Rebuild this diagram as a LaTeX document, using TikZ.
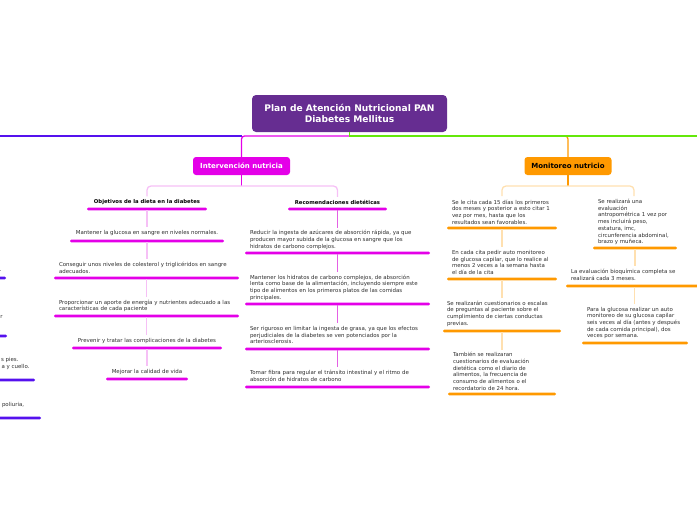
\documentclass[tikz,border=0pt]{standalone}
\usepackage{fontspec}
\setmainfont{DejaVu Sans}
\definecolor{titleC}{RGB}{102,45,145}
\definecolor{blueC}{RGB}{85,17,238}
\definecolor{magC}{RGB}{228,0,232}
\definecolor{paleM}{RGB}{246,192,246}
\definecolor{midM}{RGB}{228,96,228}
\definecolor{orangeC}{RGB}{255,153,0}
\definecolor{paleO}{RGB}{255,224,176}
\definecolor{greenC}{RGB}{100,232,10}
\definecolor{txtC}{RGB}{45,45,45}
\begin{document}
\begin{tikzpicture}[x=1pt,y=-1pt,
  every node/.style={inner sep=0pt, outer sep=0pt},
  small/.style={font=\fontsize{5.45}{6.7}\selectfont, text=txtC, align=left},
  smallb/.style={font=\bfseries\fontsize{5.3}{6.7}\selectfont, text=black},
  bar/.style={fill=#1, rounded corners=1.25pt, minimum height=2.6pt},
  mainbox/.style={fill=#1, rounded corners=3pt, font=\bfseries\fontsize{7}{8}\selectfont},
  spineline/.style={line width=1.3pt, draw=#1},
  conn/.style={line width=1.3pt, draw=#1, shorten >=3pt},
]
\useasboundingbox (0,0) rectangle (697,520);
\clip (0,0) rectangle (697,520);

% ---- title ----
\node[fill=titleC, rounded corners=4pt, minimum width=195pt, minimum height=37pt,
      text=white, align=center, font=\bfseries\fontsize{9.1}{11.5}\selectfont]
  (title) at (349.5,113.5) {Plan de Atención Nutricional PAN\\Diabetes Mellitus};
\coordinate (spine) at (349.5,136);
\coordinate (westEnd) at (-10,136);
\coordinate (eastEnd) at (710,136);

% ---- branch boxes ----
\node[mainbox=magC, text=white, minimum width=97pt, minimum height=18pt] (iv) at (241.5,166) {Intervención nutricia};
\node[mainbox=orangeC, text=black, minimum width=87pt, minimum height=18pt] (mn) at (568,166) {Monitoreo nutricio};

% spine lines
\draw[spineline=blueC] (westEnd) -- (iv.north |- spine);
\draw[spineline=orangeC, rounded corners=3pt] ([xshift=-6pt]mn.north |- spine) -| (mn.north);
\draw[spineline=magC, rounded corners=3pt] (spine) -| (iv.north);
\draw[spineline=greenC] (title.south) -- (spine) -- (eastEnd);

% ---- Intervencion: Objetivos column ----
\node[smallb] (ob0t) at (147,202) {Objetivos de la dieta en la diabetes};
\node[bar=magC, minimum width=120pt] (ob0b) at (147,209) {};
\node[small] (ob1t) at (147,233) {Mantener la glucosa en sangre en niveles normales.};
\node[bar=magC, minimum width=154pt] (ob1b) at (147,241) {};
\node[small, anchor=west] (ob2t) at (59,268) {Conseguir unos niveles de colesterol y triglicéridos en sangre\\adecuados.};
\node[bar=magC, minimum width=185pt] (ob2b) at (146.5,278) {};
\node[small, anchor=west] (ob3t) at (59,306) {Proporcionar un aporte de energía y nutrientes adecuado a las\\características de cada paciente};
\node[bar=magC, minimum width=185pt] (ob3b) at (146.5,316) {};
\node[small] (ob4t) at (147,341) {Prevenir y tratar las complicaciones de la diabetes};
\node[bar=magC, minimum width=150pt] (ob4b) at (147,348) {};
\node[small] (ob5t) at (147,372) {Mejorar la calidad de vida};
\node[bar=magC, minimum width=82pt] (ob5b) at (147,379) {};

\draw[conn=paleM] (ob0b.south) -- (ob0b.south |- ob1t.north);
\draw[conn=paleM] (ob1b.south) -- (ob1b.south |- ob2t.north);
\draw[conn=paleM] (ob2b.south) -- (ob2b.south |- ob3t.north);
\draw[conn=paleM] (ob3b.south) -- (ob3b.south |- ob4t.north);
\draw[conn=paleM] (ob4b.south) -- (ob4b.south |- ob5t.north);

% ---- Intervencion: Recomendaciones column ----
\node[smallb] (rc0t) at (337.5,202) {Recomendaciones dietéticas};
\node[bar=magC, minimum width=99pt] (rc0b) at (337.5,209) {};
\node[small, anchor=west] (rc1t) at (250,240) {Reducir la ingesta de azúcares de absorción rápida, ya que\\producen mayor subida de la glucosa en sangre que los\\hidratos de carbono complejos.};
\node[bar=magC, minimum width=185pt] (rc1b) at (337.5,253) {};
\node[small, anchor=west] (rc2t) at (250,287.5) {Mantener los hidratos de carbono complejos, de absorción\\lenta como base de la alimentación, incluyendo siempre este\\tipo de alimentos en los primeros platos de las comidas\\principales.};
\node[bar=magC, minimum width=185pt] (rc2b) at (337.5,304) {};
\node[small, anchor=west] (rc3t) at (250,335) {Ser riguroso en limitar la ingesta de grasa, ya que los efectos\\perjudiciales de la diabetes se ven potenciados por la\\arteriosclerosis.};
\node[bar=magC, minimum width=185pt] (rc3b) at (337.5,349) {};
\node[small, anchor=west] (rc4t) at (250,376) {Tomar fibra para regular el tránsito intestinal y el ritmo de\\absorción de hidratos de carbono};
\node[bar=magC, minimum width=185pt] (rc4b) at (337.5,387) {};

\draw[conn=midM] (rc0b.south) -- (rc0b.south |- rc1t.north);
\draw[conn=midM] (rc1b.south) -- (rc1b.south |- rc2t.north);
\draw[conn=midM] (rc2b.south) -- (rc2b.south |- rc3t.north);
\draw[conn=midM] (rc3b.south) -- (rc3b.south |- rc4t.north);

% Intervencion fork
\draw[line width=1.3pt, draw=magC] (iv.south) -- ([yshift=-11pt]iv.south);
\draw[line width=1.3pt, draw=paleM, rounded corners=4pt]
  ([yshift=3pt]ob0t.north) |- ([yshift=-11pt]iv.south) -| ([yshift=3pt]rc0t.north);

% ---- Monitoreo: left column ----
\node[small, anchor=west] (ml1t) at (452,212) {Se le cita cada 15 días los primeros\\dos meses y posterior a esto citar 1\\vez por mes, hasta que los\\resultados sean favorables.};
\node[bar=orangeC, minimum width=110pt] (ml1b) at (502,228) {};
\node[small, anchor=west] (ml2t) at (452,262.5) {En cada cita pedir auto monitoreo\\de glucosa capilar, que lo realice al\\menos 2 veces a la semana hasta\\el día de la cita};
\node[bar=orangeC, minimum width=110pt] (ml2b) at (502,279) {};
\node[small, anchor=west] (ml3t) at (447,313.5) {Se realizarán cuestionarios o escalas\\de preguntas al paciente sobre el\\cumplimiento de ciertas conductas\\previas.};
\node[bar=orangeC, minimum width=118pt] (ml3b) at (502,331) {};
\node[small, anchor=west] (ml4t) at (453,371.5) {También se realizaran\\cuestionarios de evaluación\\dietética como el diario de\\alimentos, la frecuencia de\\consumo de alimentos o el\\recordatorio de 24 hora.};
\node[bar=orangeC, minimum width=108pt] (ml4b) at (502,394) {};

\draw[conn=paleO] (ml1b.south) -- (ml1b.south |- ml2t.north);
\draw[conn=paleO] (ml2b.south) -- (ml2b.south |- ml3t.north);
\draw[conn=paleO] (ml3b.south) -- (ml3b.south |- ml4t.north);

% ---- Monitoreo: right column ----
\node[small, anchor=west] (mr1t) at (598,222) {Se realizará una\\evaluación\\antropométrica 1 vez por\\mes incluirá peso,\\estatura, imc,\\circunferencia abdominal,\\brazo y muñeca.};
\node[bar=orangeC, minimum width=84pt] (mr1b) at (635,248) {};
\node[small, anchor=west] (mr2t) at (571,275) {La evaluación bioquímica completa se\\realizará cada 3 meses.};
\node[bar=orangeC, minimum width=137pt] (mr2b) at (634.5,286) {};
\node[small, anchor=west] (mr3t) at (587,323) {Para la glucosa realizar un auto\\monitoreo de su glucosa capilar\\seis veces al día (antes y después\\de cada comida principal), dos\\veces por semana.};
\node[bar=orangeC, minimum width=106pt] (mr3b) at (635,343) {};

\draw[conn=paleO] (mr1b.south) -- (mr1b.south |- mr2t.north);
\draw[conn=paleO] (mr2b.south) -- (mr2b.south |- mr3t.north);

% Monitoreo fork
\coordinate (mlTop) at (502,196);
\coordinate (mrTop) at (634,196);
\draw[line width=1.3pt, draw=orangeC] (mn.south) -- ([yshift=-11pt]mn.south);
\draw[line width=1.3pt, draw=paleO, rounded corners=4pt]
  (mlTop) |- ([yshift=-11pt]mn.south) -| (mrTop);

% ---- left edge fragments (branch cut off) ----
\node[small, anchor=east] (lf1) at (1.5,271) {.};
\node[bar=blueC, minimum width=40pt] (lb1) at (-14,278) {};
\node[small, anchor=east] (lf2) at (2.5,317) {r};
\node[bar=blueC, minimum width=40pt] (lb2) at (-13,336) {};
\node[small, anchor=east] (lf3) at (18.5,359.5) {s pies.};
\node[small, anchor=east] (lf4) at (29.5,366.5) {a y cuello.};
\node[bar=blueC, minimum width=70pt] (lb3) at (0,380) {};
\node[small, anchor=west] (lf5) at (2,405) {poliuria,};
\node[bar=blueC, minimum width=82pt] (lb4) at (0,418) {};
\end{tikzpicture}
\end{document}
